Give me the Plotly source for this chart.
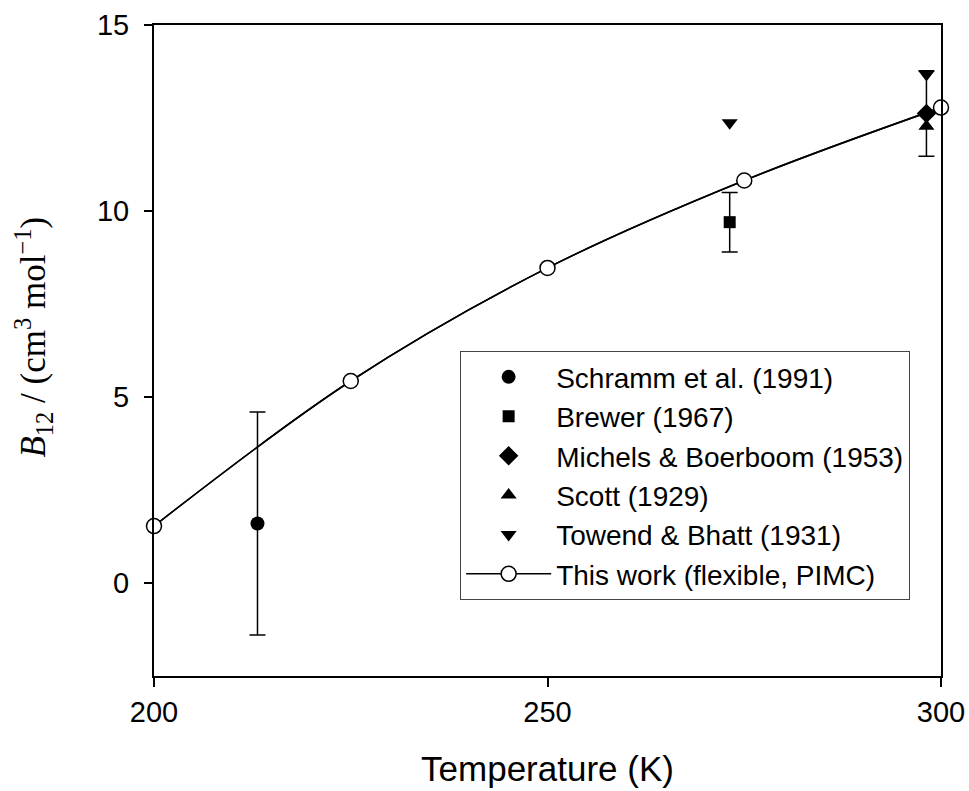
import plotly.graph_objects as go

# Data
schramm_T = [213.15]; schramm_B = [1.6]; schramm_err = [3.0]
brewer_T = [273.15]; brewer_B = [9.7]; brewer_err = [0.8]
michels_T = [298.15]; michels_B = [12.62]; michels_err = [1.15]
scott_T = [298.15]; scott_B = [12.28]
towend_T = [273.15, 298.15]; towend_B = [12.37, 13.67]
work_T = [200, 225, 250, 275, 300]
work_B = [1.53, 5.43, 8.47, 10.82, 12.78]

fig = go.Figure()

err_style = dict(type="data", visible=True, color="black", thickness=1.5, width=8)
for T, B, E in [(schramm_T, schramm_B, schramm_err), (brewer_T, brewer_B, brewer_err),
                (michels_T, michels_B, michels_err)]:
    fig.add_trace(go.Scatter(x=T, y=B, mode="markers", showlegend=False, hoverinfo="skip",
                             marker=dict(size=1, color="rgba(0,0,0,0)"),
                             error_y=dict(array=E, **err_style)))

fig.add_trace(go.Scatter(x=work_T, y=work_B, mode="lines", line=dict(color="black", width=1.5, shape="spline"),
                         showlegend=False, hoverinfo="skip"))

fig.add_trace(go.Scatter(x=schramm_T, y=schramm_B, mode="markers", name="Schramm et al. (1991)",
                         marker=dict(symbol="circle", size=14, color="black")))
fig.add_trace(go.Scatter(x=brewer_T, y=brewer_B, mode="markers", name="Brewer (1967)",
                         marker=dict(symbol="square", size=12, color="black")))
fig.add_trace(go.Scatter(x=michels_T, y=michels_B, mode="markers", name="Michels &amp; Boerboom (1953)",
                         marker=dict(symbol="diamond", size=15, color="black")))
fig.add_trace(go.Scatter(x=scott_T, y=scott_B, mode="markers", name="Scott (1929)",
                         marker=dict(symbol="triangle-up", size=14, color="black")))
fig.add_trace(go.Scatter(x=towend_T, y=towend_B, mode="markers", name="Towend &amp; Bhatt (1931)",
                         marker=dict(symbol="triangle-down", size=14, color="black")))
fig.add_trace(go.Scatter(x=work_T, y=work_B, mode="lines+markers", name="This work (flexible, PIMC)",
                         line=dict(color="black", width=1.5, shape="spline"),
                         marker=dict(symbol="circle", size=15, color="white",
                                     line=dict(color="black", width=1.5)),
                         cliponaxis=False))

fig.update_layout(
    width=969, height=791,
    margin=dict(l=154, r=28, t=25, b=115, autoexpand=False),
    paper_bgcolor="white", plot_bgcolor="white",
    font=dict(family="Liberation Sans, Arial, sans-serif", size=29, color="black"),
    xaxis=dict(range=[200, 300], tickvals=[200, 250, 300], showgrid=False, zeroline=False,
               showline=True, linecolor="black", linewidth=2, mirror=True,
               ticks="outside", ticklen=9, tickwidth=1.5, tickcolor="black",
               tickfont=dict(size=29), automargin=False,
               title=dict(text="Temperature (K)", font=dict(size=35), standoff=30)),
    yaxis=dict(range=[-2.5, 15], tickvals=[0, 5, 10, 15], showgrid=False, zeroline=False,
               showline=True, linecolor="black", linewidth=2, mirror=True,
               ticks="outside", ticklen=8, tickwidth=1.5, tickcolor="black",
               tickfont=dict(size=29), automargin=False, ticklabelstandoff=9),
    annotations=[dict(text="<i>B</i><sub>12</sub> / (cm<sup>3</sup> mol<sup>\u22121</sup>)",
                      xref="paper", yref="paper", x=-0.1537, y=0.52,
                      xanchor="center", yanchor="middle", textangle=-90, showarrow=False,
                      font=dict(family="Liberation Serif, Times New Roman, serif", size=35))],
    legend=dict(x=0.389, y=0.499, xanchor="left", yanchor="top",
                bordercolor="#444", borderwidth=1, bgcolor="white",
                font=dict(size=28), itemwidth=85, tracegroupgap=0),
)

fig.write_html("out.html")
